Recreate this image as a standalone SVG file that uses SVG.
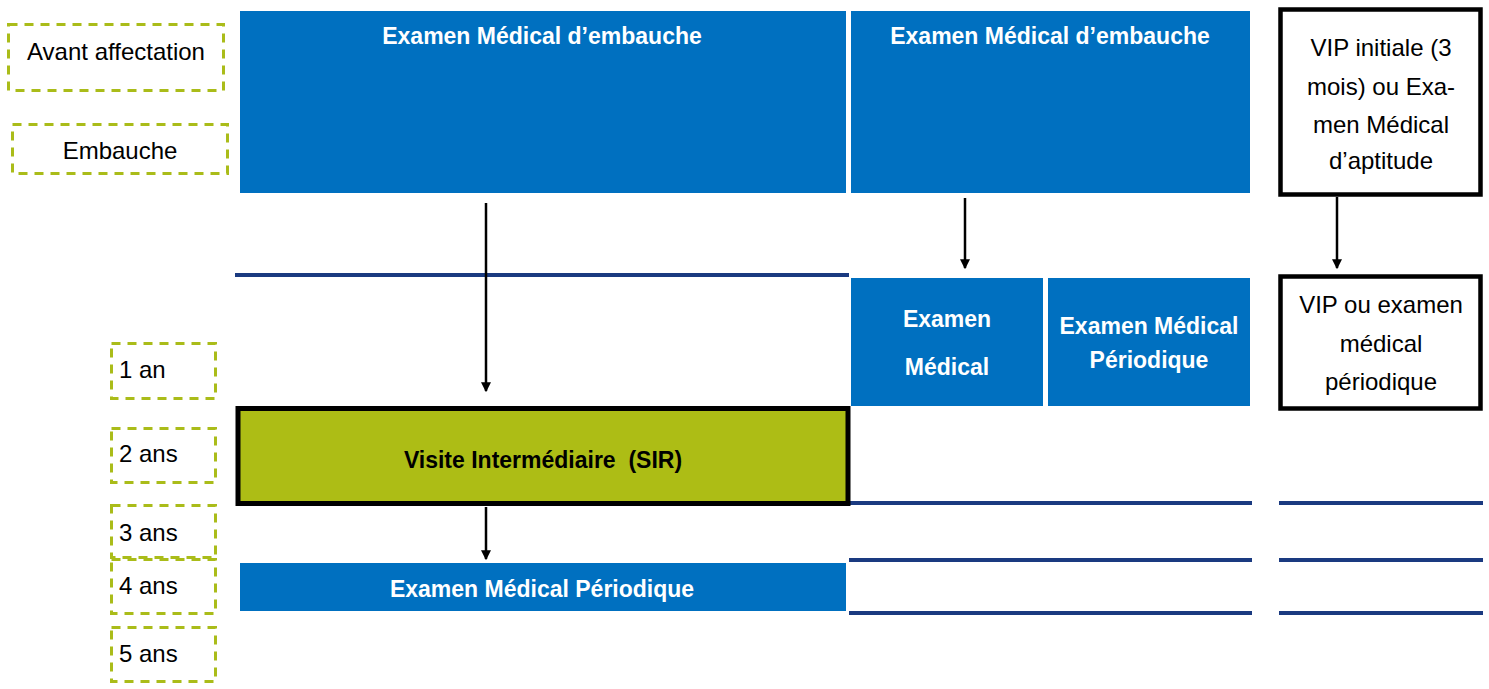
<svg xmlns="http://www.w3.org/2000/svg" width="1489" height="689" viewBox="0 0 1489 689">
<defs>
<style>
.lbl{fill:none;stroke:#AABC19;stroke-width:3;stroke-dasharray:9 7}
.blue{fill:#0070C0}
.navy{stroke:#1A3A80;stroke-width:4}
.wbox{fill:#fff;stroke:#000;stroke-width:4.5}
.t{font-family:"Liberation Sans",Arial,sans-serif;font-size:24px;fill:#000}
.tb{font-family:"Liberation Sans",Arial,sans-serif;font-size:23px;font-weight:bold;fill:#fff;text-anchor:middle}
.tk{font-family:"Liberation Sans",Arial,sans-serif;font-size:23px;font-weight:bold;fill:#000;text-anchor:middle;white-space:pre}
.c{text-anchor:middle}
.arr{stroke:#000;stroke-width:2.5;fill:none;marker-end:url(#ah)}
</style>
<marker id="ah" markerWidth="10" markerHeight="11" refX="7" refY="4" orient="auto" markerUnits="userSpaceOnUse" viewBox="0 0 8 8">
<path d="M0,0 L8,4 L0,8 z" fill="#000"/>
</marker>
</defs>
<rect width="1489" height="689" fill="#fff"/>

<g id="label-avant">
<rect class="lbl" x="8.5" y="24.5" width="215" height="66"/>
<text class="t c" x="116" y="60">Avant affectation</text>
</g>
<g id="label-embauche">
<rect class="lbl" x="12.5" y="124.5" width="215" height="49"/>
<text class="t c" x="120" y="159">Embauche</text>
</g>
<g id="label-1an">
<rect class="lbl" x="111.5" y="343.5" width="104" height="55"/>
<text class="t" x="119" y="378">1 an</text>
</g>
<g id="label-2ans">
<rect class="lbl" x="111.5" y="428.5" width="104" height="54"/>
<text class="t" x="119" y="462">2 ans</text>
</g>
<g id="label-3ans">
<rect class="lbl" x="111.5" y="505.5" width="104" height="52"/>
<text class="t" x="119" y="541">3 ans</text>
</g>
<g id="label-4ans">
<rect class="lbl" x="111.5" y="559.5" width="104" height="54"/>
<text class="t" x="119" y="594">4 ans</text>
</g>
<g id="label-5ans">
<rect class="lbl" x="111.5" y="627.5" width="104" height="54"/>
<text class="t" x="119" y="662">5 ans</text>
</g>

<g id="navy-lines">
<line class="navy" x1="235" y1="275" x2="849" y2="275"/>
<line class="navy" x1="849" y1="503" x2="1252" y2="503"/>
<line class="navy" x1="1279" y1="503" x2="1483" y2="503"/>
<line class="navy" x1="849" y1="560" x2="1252" y2="560"/>
<line class="navy" x1="1279" y1="560" x2="1483" y2="560"/>
<line class="navy" x1="849" y1="613" x2="1252" y2="613"/>
<line class="navy" x1="1279" y1="613" x2="1483" y2="613"/>
</g>

<g id="embauche-1">
<rect class="blue" x="240" y="11" width="606" height="182"/>
<text class="tb" x="542" y="44">Examen Médical d’embauche</text>
</g>
<g id="embauche-2">
<rect class="blue" x="851" y="11" width="399" height="182"/>
<text class="tb" x="1050" y="44">Examen Médical d’embauche</text>
</g>
<g id="vip-initiale">
<rect class="wbox" x="1280.5" y="9.5" width="200" height="185"/>
<text class="t c" x="1381" y="56">VIP initiale (3</text>
<text class="t c" x="1381" y="95">mois) ou Exa-</text>
<text class="t c" x="1381" y="133">men Médical</text>
<text class="t c" x="1381" y="169">d’aptitude</text>
</g>
<g id="examen-medical">
<rect class="blue" x="851" y="278" width="192" height="128"/>
<text class="tb" x="947" y="327">Examen</text>
<text class="tb" x="947" y="375">Médical</text>
</g>
<g id="examen-periodique-b">
<rect class="blue" x="1048" y="278" width="202" height="128"/>
<text class="tb" x="1149" y="334">Examen Médical</text>
<text class="tb" x="1149" y="368">Périodique</text>
</g>
<g id="vip-periodique">
<rect class="wbox" x="1280.5" y="276.5" width="200" height="132"/>
<text class="t c" x="1381" y="313">VIP ou examen</text>
<text class="t c" x="1381" y="352">médical</text>
<text class="t c" x="1381" y="390">périodique</text>
</g>
<g id="visite-intermediaire">
<rect x="238" y="408.5" width="610" height="95" fill="#ADBD15" stroke="#000" stroke-width="5"/>
<text class="tk" x="543" y="468" xml:space="preserve">Visite Intermédiaire  (SIR)</text>
</g>
<g id="examen-periodique">
<rect class="blue" x="240" y="563" width="606" height="48"/>
<text class="tb" x="542" y="597">Examen Médical Périodique</text>
</g>

<g id="connectors">
<line class="arr" x1="486" y1="203" x2="486" y2="391"/>
<line class="arr" x1="965" y1="198" x2="965" y2="268"/>
<line class="arr" x1="1337" y1="197" x2="1337" y2="268"/>
<line class="arr" x1="486" y1="507" x2="486" y2="559"/>
</g>
</svg>
